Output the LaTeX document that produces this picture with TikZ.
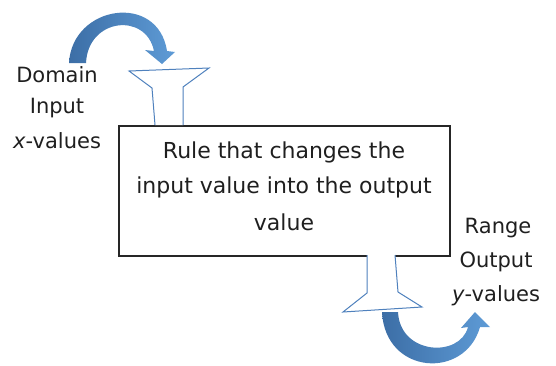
\documentclass[tikz,border=0pt]{standalone}
\usepackage{fontspec}
\setmainfont{DejaVu Sans}
\begin{document}
\begin{tikzpicture}[x=1pt,y=-1pt,
  lbl/.style={font=\fontsize{21}{25}\selectfont, text=black!88, inner sep=0pt, align=center},
  boxlbl/.style={lbl, font=\fontsize{22}{26}\selectfont},
  funnel/.style={draw=funblue, line width=1pt, fill=white, line join=miter},
  barrow/.style={left color=arrdark, right color=arrlight, draw=none}]
\definecolor{funblue}{HTML}{4F81BD}
\definecolor{arrdark}{HTML}{3C6EA6}
\definecolor{arrlight}{HTML}{5E9BD6}
\useasboundingbox (0,0) rectangle (556,365);
% box
\node[draw=black!85, line width=1.5pt, minimum width=331pt, minimum height=130pt, inner sep=0pt, anchor=north west] (rule) at (118,125) {};
\node[boxlbl, anchor=center] (rt1) at (284,152) {Rule that changes the};
\node[boxlbl, anchor=center] (rt2) at (284,187) {input value into the output};
\node[boxlbl, anchor=center] (rt3) at (284,222) {value};
% top funnel
\draw[funnel] (155,125) -- (152,88) -- (129,71) -- (209,68) -- (183,87) -- (183,125);
% bottom funnel
\draw[funnel] (367,255) -- (367,293) -- (343,312) -- (422,307) -- (398,292) -- (395,255);
% top arrow
\path[barrow] (69,63) .. controls (72,5) and (158,-8) .. (167,51) -- (175,52) -- (162,64) -- (145,50) -- (154,51) .. controls (146,12) and (88,18) .. (86,63) -- cycle;
% bottom arrow
\path[barrow] (382,312) .. controls (385,375) and (465,380) .. (480,327) -- (490,327) -- (475,312) -- (461,328) -- (468,327) .. controls (460,358) and (400,355) .. (398,312) -- cycle;
% labels
\node[lbl] (dom) at (57,75) {Domain};
\node[lbl] (inp) at (57,108) {Input};
\node[lbl] (xv) at (57,141) {\textit{x}-values};
\node[lbl] (rng) at (498,228) {Range};
\node[lbl] (out) at (496,262) {Output};
\node[lbl] (yv) at (496,296) {\textit{y}-values};
\end{tikzpicture}
\end{document}
